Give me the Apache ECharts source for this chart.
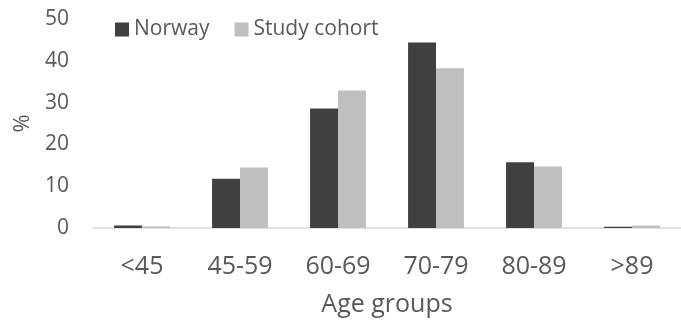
<!DOCTYPE html>
<html>
<head>
<meta charset="utf-8">
<script src="https://cdn.jsdelivr.net/npm/echarts@6/dist/echarts.min.js"></script>
<style>
  html, body { margin: 0; padding: 0; background: #fff; }
  #chart { width: 681px; height: 329px; }
</style>
</head>
<body>
<div id="chart"></div>
<script>
// Age distribution: Norway population vs. study cohort (%)
const categories = ['<45', '45-59', '60-69', '70-79', '80-89', '>89'];
const norway = [0.6, 11.8, 28.6, 44.4, 15.7, 0.3];
const studyCohort = [0.4, 14.5, 32.9, 38.2, 14.7, 0.6];
const yTicks = [0, 10, 20, 30, 40, 50];

const textColor = '#595959';
const fontFamily = '"Open Sans", sans-serif';

const chart = echarts.init(document.getElementById('chart'));
chart.setOption({
  animation: false,
  textStyle: { fontFamily: fontFamily, color: textColor },
  grid: { left: 93, right: 0, top: 19, bottom: 101, containLabel: false },
  legend: {
    left: 110,
    top: 14,
    itemWidth: 14,
    itemHeight: 14,
    itemGap: 25,
    icon: 'rect',
    textStyle: { fontSize: 21, color: textColor, fontFamily: fontFamily },
    data: ['Norway', 'Study cohort']
  },
  xAxis: {
    type: 'category',
    data: categories,
    name: 'Age groups',
    nameLocation: 'middle',
    nameGap: 64,
    nameTextStyle: { fontSize: 25, color: textColor, fontFamily: fontFamily },
    axisLine: { lineStyle: { color: '#d9d9d9', width: 1.5 } },
    axisTick: { show: false },
    axisLabel: { fontSize: 25, color: textColor, margin: 26, fontFamily: fontFamily }
  },
  yAxis: {
    type: 'value',
    min: yTicks[0],
    max: yTicks[yTicks.length - 1],
    interval: 10,
    name: '%',
    nameLocation: 'middle',
    nameGap: 58,
    nameRotate: 90,
    nameTextStyle: { fontSize: 22, color: textColor, fontFamily: fontFamily },
    axisLine: { show: false },
    axisTick: { show: false },
    splitLine: { show: false },
    axisLabel: { fontSize: 21, color: textColor, margin: 24, fontFamily: fontFamily }
  },
  series: [
    {
      name: 'Norway',
      type: 'bar',
      data: norway,
      barGap: '0%',
      barCategoryGap: '43%',
      itemStyle: { color: '#404040' }
    },
    {
      name: 'Study cohort',
      type: 'bar',
      data: studyCohort,
      itemStyle: { color: '#bfbfbf' }
    }
  ]
});
</script>
</body>
</html>
